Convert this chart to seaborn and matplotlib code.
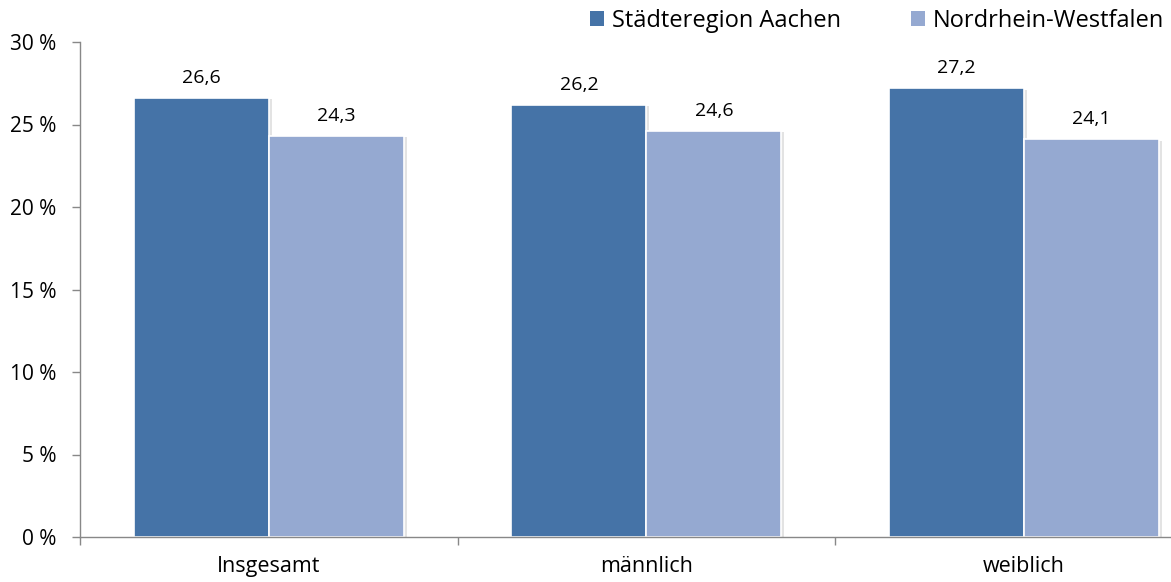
import numpy as np
import pandas as pd
import matplotlib
matplotlib.use('Agg')
import matplotlib.pyplot as plt
import matplotlib.patheffects as pe
from matplotlib.patches import Patch
import seaborn as sns

# Daten
kategorien = ['Insgesamt', 'männlich', 'weiblich']
regionen = ['Städteregion Aachen', 'Nordrhein-Westfalen']
aachen = [26.6, 26.2, 27.2]
nrw = [24.3, 24.6, 24.1]
y_ticks = [0, 5, 10, 15, 20, 25, 30]

farben = ['#4573A7', '#95A9D1']

sns.set_style('white')
plt.rcParams['font.family'] = ['Open Sans', 'DejaVu Sans']
plt.rcParams['text.color'] = 'black'
plt.rcParams['xtick.color'] = 'black'
plt.rcParams['ytick.color'] = 'black'

df = pd.DataFrame({
    'Kategorie': kategorien * 2,
    'Region': [regionen[0]] * 3 + [regionen[1]] * 3,
    'Wert': aachen + nrw,
})

fig = plt.figure(figsize=(11.71, 5.82), dpi=100)
ax = fig.add_axes([80 / 1171, 45 / 582, 1091 / 1171, 495 / 582])

sns.barplot(data=df, x='Kategorie', y='Wert', hue='Region', order=kategorien,
            hue_order=regionen, palette=farben, saturation=1, width=0.715,
            edgecolor='white', linewidth=1.2, ax=ax, legend=False)

shadow = [pe.SimplePatchShadow(offset=(2, -1), shadow_rgbFace='#b0b0b0', alpha=0.35), pe.Normal()]
for cont in ax.containers:
    for p in cont:
        p.set_path_effects(shadow)
    ax.bar_label(cont, labels=[f'{v:.1f}'.replace('.', ',') for v in cont.datavalues],
                 padding=8, fontsize=14, color='black')

ax.set_ylim(0, 30)
ax.set_xlim(-0.5, 2.389)
ax.set_yticks(y_ticks)
ax.set_yticklabels([f'{t} %' for t in y_ticks], fontsize=15)
ax.set_xticks(range(3))
ax.set_xticklabels(kategorien, fontsize=15.5)
ax.set_xticks([-0.5, 0.5, 1.5], minor=True)
ax.tick_params(axis='x', which='major', length=0, pad=14, bottom=True)
ax.tick_params(axis='x', which='minor', length=6, color='#888888', width=1,
               direction='out', bottom=True)
ax.tick_params(axis='y', length=6, color='#888888', labelcolor='black', width=1,
               direction='out', pad=11, left=True)
ax.set_xlabel('')
ax.set_ylabel('')
for s in ['top', 'right']:
    ax.spines[s].set_visible(False)
for s in ['left', 'bottom']:
    ax.spines[s].set_color('#888888')
    ax.spines[s].set_linewidth(1)

handles = [Patch(facecolor=c, edgecolor='none') for c in farben]
fig.legend(handles, regionen, loc='center right', bbox_to_anchor=(1164 / 1171, 1 - 21 / 582),
           ncol=2, frameon=False, fontsize=17, handlelength=0.6, handleheight=0.6,
           handletextpad=0.34, columnspacing=2.95, borderpad=0, borderaxespad=0)

fig.savefig('out.png', dpi=100)
